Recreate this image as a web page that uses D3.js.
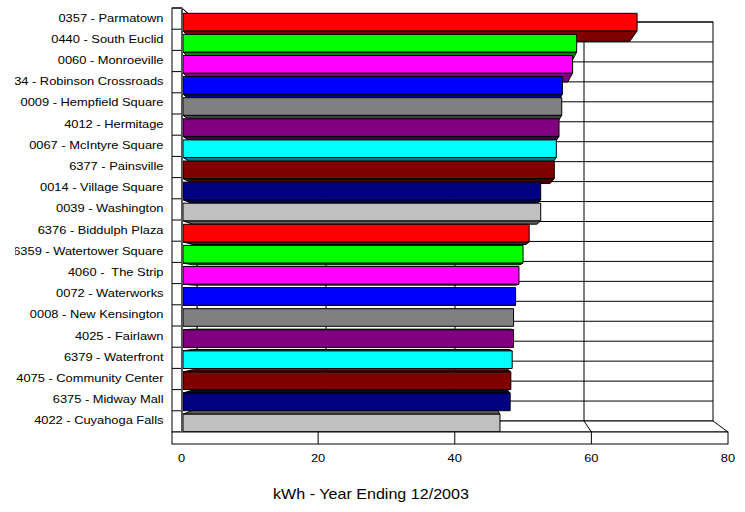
<!DOCTYPE html>
<html>
<head>
<meta charset="utf-8">
<script src="https://cdn.jsdelivr.net/npm/d3@7"></script>
<style>
  html, body { margin: 0; padding: 0; background: #fff; }
  svg { display: block; }
</style>
</head>
<body>
<svg id="chart" width="745" height="512"></svg>
<script>
// Store names, top to bottom
const categories = [
  "0357 - Parmatown", "0440 - South Euclid", "0060 - Monroeville", "6334 - Robinson Crossroads",
  "0009 - Hempfield Square", "4012 - Hermitage", "0067 - McIntyre Square", "6377 - Painsville",
  "0014 - Village Square", "0039 - Washington", "6376 - Biddulph Plaza", "6359 - Watertower Square",
  "4060 -  The Strip", "0072 - Waterworks", "0008 - New Kensington", "4025 - Fairlawn",
  "6379 - Waterfront", "4075 - Community Center", "6375 - Midway Mall", "4022 - Cuyahoga Falls"
];
// kWh per store (same order)
const kwh = [66.9, 58.0, 57.4, 55.9, 55.8, 55.4, 55.0, 54.7, 52.7, 52.7,
             51.0, 50.1, 49.5, 49.0, 48.7, 48.7, 48.5, 48.3, 48.2, 46.7];
// Bar colours cycle through this palette
const palette = ["#FF0000", "#00FF00", "#FF00FF", "#0000FF", "#808080",
                 "#800080", "#00FFFF", "#800000", "#000080", "#C0C0C0"];
const valueTicks = [0, 20, 40, 60, 80];
const axisTitle = "kWh - Year Ending 12/2003";

const svg = d3.select("#chart");
const FONT = "'Liberation Sans', Arial, sans-serif";
const SX = 1.15; // horizontal text stretch

// --- 3D frame geometry ---
const wallLeft = 172, wallRight = 182, wallTop = 8;
const backTop = 22, backBottom = 421, floorFront = 432, floorBase = 444;

const frontX = d3.scaleLinear().domain([0, 80]).range([181.5, 728]);
const backX  = d3.scaleLinear().domain([0, 80]).range([197, 713]);
const barX   = d3.scaleLinear().domain([0, 80]).range([183, 726]);

const wallBand = d3.scaleBand().domain(categories).range([wallTop, floorFront]);
const backBand = d3.scaleBand().domain(categories).range([backTop, backBottom]);
const barBand  = d3.scaleBand().domain(categories).range([11.55, 433.55])
  .paddingInner(0.166).paddingOuter(0.083);

// perspective used for bar depth faces
const vp = [440, 312], depthK = 0.963;
const proj = ([x, y]) => [vp[0] + depthK * (x - vp[0]), vp[1] + depthK * (y - vp[1])];
const shade = c => { const r = d3.rgb(c); return d3.rgb(r.r * 0.5, r.g * 0.5, r.b * 0.5).formatHex(); };
const line = d3.line();

const frame = svg.append("g").attr("stroke", "#000").attr("stroke-width", 1).attr("fill", "#fff");

// back wall
frame.append("rect")
  .attr("x", backX(0)).attr("y", backTop)
  .attr("width", backX(80) - backX(0)).attr("height", backBottom - backTop);
categories.forEach(c => {
  frame.append("line").attr("x1", backX(0)).attr("x2", backX(80))
    .attr("y1", backBand(c)).attr("y2", backBand(c));
});
valueTicks.slice(1, -1).forEach(v => {
  frame.append("line").attr("x1", backX(v)).attr("x2", backX(v))
    .attr("y1", backTop).attr("y2", backBottom);
});

// floor surface
frame.append("path").attr("d", line([
  [frontX(0), floorFront], [frontX(80), floorFront], [backX(80), backBottom], [backX(0), backBottom]
]) + "Z");
valueTicks.slice(1, -1).forEach(v => {
  frame.append("line").attr("x1", backX(v)).attr("y1", backBottom)
    .attr("x2", frontX(v)).attr("y2", floorFront);
});

// inner face of the left wall
frame.append("path").attr("d", line([
  [wallRight, wallTop], [backX(0), backTop], [backX(0), backBottom], [wallRight, floorFront]
]) + "Z");
categories.forEach(c => {
  frame.append("line").attr("x1", wallRight).attr("y1", wallBand(c))
    .attr("x2", backX(0)).attr("y2", backBand(c));
});

// --- bars, drawn from the outside in so nearer faces overlap correctly ---
const bars = categories.map((c, i) => ({
  c, v: kwh[i], color: palette[i % palette.length],
  y0: barBand(c), y1: barBand(c) + barBand.bandwidth()
}));
bars.sort((a, b) => Math.abs((b.y0 + b.y1) / 2 - vp[1]) - Math.abs((a.y0 + a.y1) / 2 - vp[1]));

const barG = svg.append("g").attr("stroke", "#000").attr("stroke-width", 1).attr("stroke-linejoin", "round");
bars.forEach(b => {
  const x0 = barX(0), x1 = barX(b.v);
  const g = barG.append("g");
  if (b.y1 < vp[1]) {
    // underside visible
    g.append("path").attr("fill", shade(b.color)).attr("d", line([
      [x0, b.y1], [x1, b.y1], proj([x1, b.y1]), proj([x0, b.y1])
    ]) + "Z");
  } else if (b.y0 > vp[1]) {
    // top visible
    g.append("path").attr("fill", shade(b.color)).attr("d", line([
      [x0, b.y0], [x1, b.y0], proj([x1, b.y0]), proj([x0, b.y0])
    ]) + "Z");
  }
  g.append("rect").attr("fill", b.color)
    .attr("x", x0).attr("y", b.y0).attr("width", x1 - x0).attr("height", b.y1 - b.y0);
});

// --- front edges of the left wall and floor ---
const front = svg.append("g").attr("stroke", "#000").attr("stroke-width", 1).attr("fill", "#fff");
front.append("rect").attr("x", wallLeft).attr("y", wallTop)
  .attr("width", wallRight - wallLeft).attr("height", floorFront - wallTop);
categories.forEach(c => {
  front.append("line").attr("x1", wallLeft).attr("x2", wallRight)
    .attr("y1", wallBand(c)).attr("y2", wallBand(c));
});
front.append("rect").attr("x", wallLeft).attr("y", floorFront)
  .attr("width", frontX(80) - wallLeft).attr("height", floorBase - floorFront);
valueTicks.slice(1, -1).forEach(v => {
  front.append("line").attr("x1", frontX(v)).attr("x2", frontX(v))
    .attr("y1", floorFront).attr("y2", floorBase);
});
svg.append("line").attr("x1", wallRight).attr("x2", wallRight)
  .attr("y1", wallTop).attr("y2", floorFront)
  .attr("stroke", "#555").attr("stroke-width", 2);

// --- text ---
svg.append("clipPath").attr("id", "labelClip")
  .append("rect").attr("x", 15).attr("y", 0).attr("width", 160).attr("height", 512);

const labels = svg.append("g").attr("clip-path", "url(#labelClip)")
  .attr("font-family", FONT).attr("font-size", 11.2).attr("fill", "#000");
categories.forEach(c => {
  labels.append("text")
    .attr("transform", `translate(163.5,${wallBand(c) + wallBand.bandwidth() / 2 - 1}) scale(${SX},1)`)
    .attr("text-anchor", "end").attr("dy", "0.35em")
    .attr("xml:space", "preserve")
    .text(c);
});

const ticks = svg.append("g").attr("font-family", FONT).attr("font-size", 11.2).attr("fill", "#000");
valueTicks.forEach(v => {
  ticks.append("text")
    .attr("transform", `translate(${frontX(v)},462) scale(${SX},1)`)
    .attr("text-anchor", "middle")
    .text(v);
});

svg.append("text")
  .attr("transform", `translate(371,499) scale(${SX},1)`)
  .attr("text-anchor", "middle")
  .attr("font-family", FONT).attr("font-size", 14).attr("fill", "#000")
  .text(axisTitle);
</script>
</body>
</html>
